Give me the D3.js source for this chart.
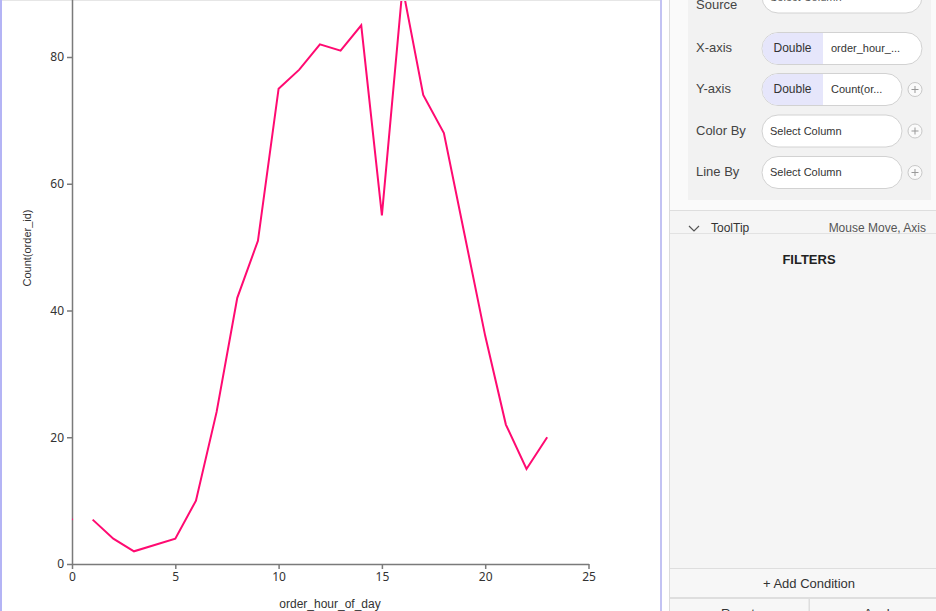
<!DOCTYPE html>
<html><head><meta charset="utf-8">
<script src="https://cdn.jsdelivr.net/npm/d3@7"></script>
<style>
html,body{margin:0;padding:0;background:#fff;overflow:hidden;}
svg{display:block;}
.ui{font-family:"Liberation Sans",Arial,sans-serif;}
</style></head>
<body>
<svg id="c" width="936" height="611"></svg>
<script>
const hours = [0,1,2,3,4,5,6,7,8,9,10,11,12,13,14,15,16,17,18,19,20,21,22,23];
const counts = [7,7,4,2,3,4,10,24,42,51,75,78,82,81,85,55,91,74,68,52,36,22,15,20];
const xTicks = [0,5,10,15,20,25];
const yTicks = [0,20,40,60,80];
const xLabel = "order_hour_of_day";
const yLabel = "Count(order_id)";
const fieldLabels = ["Source","X-axis","Y-axis","Color By","Line By"];

const svg = d3.select("#c");
const W = 936, H = 611;

// left blue edge, top line
svg.append("rect").attr("x",0).attr("y",0).attr("width",2).attr("height",H).attr("fill","#b4b4f5");
svg.append("rect").attr("x",2).attr("y",0).attr("width",658).attr("height",1).attr("fill","#e6e6e6");

const x = d3.scaleLinear().domain([0,25]).range([72,588.5]);
const y = d3.scaleLinear().domain([0,95]).range([564,564-95*6.3375]);

const defs = svg.append("defs");
defs.append("clipPath").attr("id","clip").append("rect").attr("x",72).attr("y",1).attr("width",600).attr("height",570);

const tickFont = '"Noto Sans","Open Sans",sans-serif';
const gx = svg.append("g").attr("transform","translate(0,564)")
  .call(d3.axisBottom(x).tickValues(xTicks).tickSize(5).tickSizeOuter(0).tickPadding(3));
const gy = svg.append("g").attr("transform","translate(72,0)")
  .call(d3.axisLeft(y).tickValues(yTicks).tickSize(5).tickSizeOuter(0).tickPadding(3));
[gx,gy].forEach(g=>{
  g.selectAll("path,line").attr("stroke","#7a7a7a").attr("stroke-width",1.5);
  g.selectAll("text").attr("fill","#333").style("font-family",tickFont).style("font-size","12px");
});

svg.append("text").attr("x",330).attr("y",608).attr("text-anchor","middle")
  .attr("fill","#333").style("font-family",'"Liberation Sans",Arial,sans-serif').style("font-size","12px").text(xLabel);
svg.append("text").attr("transform","translate(31,248) rotate(-90)").attr("text-anchor","middle")
  .attr("fill","#333").style("font-family",'"Liberation Sans",Arial,sans-serif').style("font-size","11px").text(yLabel);

const data = hours.map((h,i)=>({h,v:counts[i]}));
const line = d3.line().x(d=>x(d.h)).y(d=>y(d.v));
const plot = svg.append("g").attr("clip-path","url(#clip)");
plot.append("path").datum(data.slice(1)).attr("d",line).attr("fill","none")
  .attr("stroke","#ff0a71").attr("stroke-width",2).attr("stroke-linejoin","miter");
plot.append("rect").attr("x",x(data[0].h)-1).attr("y",y(data[0].v)-1).attr("width",2).attr("height",1.5).attr("fill","#ff0a71");

// ---- right panel ----
const ui = svg.append("g").attr("class","ui");
ui.append("rect").attr("x",660).attr("y",0).attr("width",2).attr("height",H).attr("fill","#c3c3f3");
ui.append("rect").attr("x",662).attr("y",0).attr("width",7).attr("height",H).attr("fill","#ffffff");
ui.append("rect").attr("x",669).attr("y",0).attr("width",1).attr("height",H).attr("fill","#dcdcdc");
ui.append("rect").attr("x",670).attr("y",0).attr("width",266).attr("height",210).attr("fill","#fafafa");
ui.append("rect").attr("x",688).attr("y",-10).attr("width",243).attr("height",210).attr("fill","#f2f2f2");

const rowsY = [-3,48,89,131,172];
function pill(x0,y0,w,h){
  ui.append("rect").attr("x",x0).attr("y",y0).attr("width",w).attr("height",h).attr("rx",h/2)
    .attr("fill","#fff").attr("stroke","#d2d2d2").attr("stroke-width",1);
}
function plus(cx,cy){
  ui.append("circle").attr("cx",cx).attr("cy",cy).attr("r",7).attr("fill","#fafafa").attr("stroke","#c8c8c8");
  ui.append("path").attr("d",`M${cx-3.5},${cy}H${cx+3.5}M${cx},${cy-3.5}V${cy+3.5}`).attr("stroke","#999").attr("stroke-width",1);
}
fieldLabels.forEach((lab,i)=>{
  ui.append("text").attr("x",696).attr("y",rowsY[i]+4+(i===0?8:0)).attr("fill","#444")
    .style("font-size","13px").text(lab);
});
// Source
pill(762,-19,160,32);
ui.append("text").attr("x",770).attr("y",1).attr("fill","#555").style("font-size","11px").text("Select Column");
// X-axis
pill(762,32.5,160,32);
ui.append("path").attr("d","M778,33H823V64H778A15.5,15.5 0 0 1 778,33Z").attr("fill","#e6e6fb");
ui.append("text").attr("x",792.5).attr("y",52).attr("text-anchor","middle").attr("fill","#333").style("font-size","12px").text("Double");
ui.append("text").attr("x",831).attr("y",52).attr("fill","#333").style("font-size","11px").text("order_hour_...");
// Y-axis
pill(762,73.5,140,32);
ui.append("path").attr("d","M778,74H823V105H778A15.5,15.5 0 0 1 778,74Z").attr("fill","#e6e6fb");
ui.append("text").attr("x",792.5).attr("y",93).attr("text-anchor","middle").attr("fill","#333").style("font-size","12px").text("Double");
ui.append("text").attr("x",831).attr("y",93).attr("fill","#333").style("font-size","11px").text("Count(or...");
plus(915,89.5);
// Color By / Line By
pill(762,115,140,32);
ui.append("text").attr("x",770).attr("y",135).attr("fill","#333").style("font-size","11px").text("Select Column");
plus(915,131);
pill(762,156.5,140,32);
ui.append("text").attr("x",770).attr("y",176).attr("fill","#333").style("font-size","11px").text("Select Column");
plus(915,172.5);

// tooltip row
ui.append("rect").attr("x",670).attr("y",210).attr("width",266).attr("height",1).attr("fill","#dedede");
ui.append("rect").attr("x",670).attr("y",211).attr("width",266).attr("height",357).attr("fill","#f5f5f5");
ui.append("rect").attr("x",670).attr("y",233).attr("width",266).attr("height",1).attr("fill","#e2e2e2");
ui.append("path").attr("d","M689,226L694,231L699,226").attr("fill","none").attr("stroke","#555").attr("stroke-width",1.2);
ui.append("text").attr("x",711).attr("y",232).attr("fill","#333").style("font-size","12px").text("ToolTip");
ui.append("text").attr("x",926).attr("y",232).attr("text-anchor","end").attr("fill","#555").style("font-size","12px").text("Mouse Move, Axis");
ui.append("text").attr("x",809).attr("y",264).attr("text-anchor","middle").attr("fill","#222").style("font-size","13px").style("font-weight","bold").text("FILTERS");

// add condition
ui.append("rect").attr("x",670).attr("y",568).attr("width",266).attr("height",30).attr("fill","#f7f7f7");
ui.append("rect").attr("x",670).attr("y",568).attr("width",266).attr("height",1).attr("fill","#dedede");
ui.append("rect").attr("x",670).attr("y",597).attr("width",266).attr("height",2).attr("fill","#dedede");
ui.append("text").attr("x",809).attr("y",588).attr("text-anchor","middle").attr("fill","#333").style("font-size","13px").text("+ Add Condition");
ui.append("rect").attr("x",670).attr("y",599).attr("width",266).attr("height",12).attr("fill","#f7f7f7");
ui.append("rect").attr("x",808.5).attr("y",599).attr("width",1.5).attr("height",12).attr("fill","#dedede");
ui.append("text").attr("x",738).attr("y",618).attr("text-anchor","middle").attr("fill","#333").style("font-size","13px").text("Reset");
ui.append("text").attr("x",880).attr("y",618).attr("text-anchor","middle").attr("fill","#333").style("font-size","13px").text("Apply");
</script>
</body></html>
